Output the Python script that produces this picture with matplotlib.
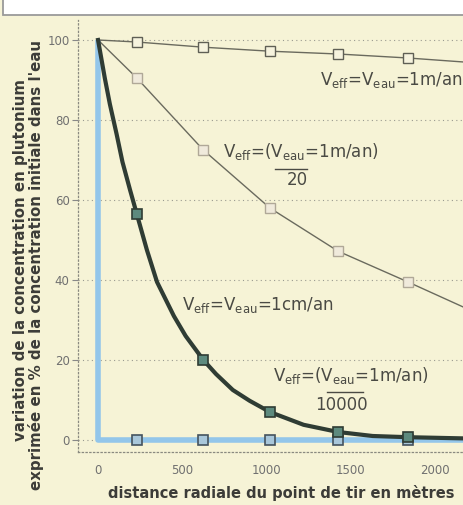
import matplotlib.pyplot as plt
from matplotlib.patches import Rectangle

plt.rcParams['font.family'] = ['DejaVu Sans']
plt.rcParams['mathtext.default'] = 'regular'

# distances of the square markers (m)
dist_markers = [230, 625, 1020, 1425, 1840]
x_end = 2170

# Veff = Veau = 1 m/an
c_1m = [99.5, 98.2, 97.2, 96.5, 95.5]
c_1m_end = 94.5
# Veff = Veau / 20
c_20 = [90.5, 72.5, 58, 47.2, 39.5]
c_20_end = 33.2
# Veff = Veau = 1 cm/an (curve)
cm_x = [0, 40, 70, 110, 145, 190, 230, 290, 350, 450, 520, 625, 700, 800, 900, 1020,
        1220, 1425, 1630, 1840, 2170]
cm_y = [100, 90.5, 84, 76.5, 69.5, 62.5, 56.5, 47.5, 39.5, 31, 26, 20, 16.5, 12.5, 9.8, 7,
        3.8, 2, 1.0, 0.7, 0.4]
c_cm = [56.5, 20, 7, 2, 0.7]
# Veff = Veau / 10000
c_10000 = [0, 0, 0, 0, 0]

xticks = [0, 500, 1000, 1500, 2000]
yticks = [0, 20, 40, 60, 80, 100]

bg = '#f6f3d6'
fig = plt.figure(figsize=(4.64, 5.05), dpi=100, facecolor=bg)
ax = fig.add_axes([78 / 464, 1 - 452 / 505, 1 - 78 / 464, (452 - 20) / 505])
ax.set_facecolor('none')

# white caption box on top
fig.patches.append(Rectangle((3 / 464, 1 - 15 / 505), 1.0, 0.1, transform=fig.transFigure,
                             facecolor='white', edgecolor='#9a9a9a', lw=1.3))

# Veff = Veau/10000 (blue)
ax.plot([0, 0, x_end], [100, 0, 0], color='#93c6ea', lw=4, solid_capstyle='butt', zorder=2)
ax.plot(dist_markers, c_10000, 's', ms=7.5, mfc='#a9c7da', mec='#45535e', mew=1.2, zorder=5)

# Veff = Veau = 1 m/an
ax.plot([0] + dist_markers + [x_end], [100] + c_1m + [c_1m_end], color='#6a6a5e', lw=1.0,
        marker='s', ms=7.5, mfc='#f6f3de', mec='#5f5f55', mew=1.0, markevery=list(range(1, 6)), zorder=3)
# Veff = Veau/20
ax.plot([0] + dist_markers + [x_end], [100] + c_20 + [c_20_end], color='#6a6a5e', lw=1.0,
        marker='s', ms=7.5, mfc='#f0eadc', mec='#b0a898', mew=1.0, markevery=list(range(1, 6)), zorder=3)
# Veff = Veau = 1 cm/an (dark thick)
ax.plot(cm_x, cm_y, color='#2f3c34', lw=3, solid_joinstyle='round', zorder=4)
ax.plot(dist_markers, c_cm, 's', ms=7.5, mfc='#5d8a7e', mec='#2f3c34', mew=1.2, zorder=6)

ax.set_xlim(-119, 2172)
ax.set_ylim(-3, 105)
ax.set_xticks(xticks)
ax.set_yticks(yticks)
ax.tick_params(axis='x', length=0, pad=9, labelsize=8.5, labelcolor='#707070')
ax.tick_params(axis='y', length=4, width=0.8, color='#888888', pad=2, labelsize=8.5, labelcolor='#707070')
ax.grid(axis='y', linestyle=(0, (1, 3)), color='#9a9a90', lw=0.8)
ax.set_axisbelow(True)
for s in ['top', 'right']:
    ax.spines[s].set_visible(False)
for s in ['left', 'bottom']:
    ax.spines[s].set_linestyle((0, (1, 2)))
    ax.spines[s].set_color('#8a8a80')
    ax.spines[s].set_linewidth(0.9)

# curve labels
tc = '#4a4a44'
fs = 12
ax.text(1317, 90, r'$V_{eff}$=$V_{eau}$=1m/an', fontsize=fs, color=tc, va='center', ha='left')
ax.text(742, 72, r'$V_{eff}$=($V_{eau}$=1m/an)', fontsize=fs, color=tc, va='center', ha='left')
ax.plot([1050, 1240], [67.8, 67.8], color=tc, lw=1.0)
ax.text(1181, 65, '20', fontsize=fs, color=tc, va='center', ha='center')
ax.text(498, 33.7, r'$V_{eff}$=$V_{eau}$=1cm/an', fontsize=fs, color=tc, va='center', ha='left')
ax.text(1039, 16.2, r'$V_{eff}$=($V_{eau}$=1m/an)', fontsize=fs, color=tc, va='center', ha='left')
ax.plot([1359, 1573], [12.1, 12.1], color=tc, lw=1.0)
ax.text(1442, 8.7, '10000', fontsize=fs, color=tc, va='center', ha='center')

# axis titles
lc = '#3c3c38'
fig.text(21 / 464, 1 - 260 / 505, 'variation de la concentration en plutonium', rotation=90,
         fontsize=10.8, fontweight='bold', color=lc, ha='center', va='center')
fig.text(36 / 464, 1 - 265 / 505, "exprimée en % de la concentration initiale dans l'eau", rotation=90,
         fontsize=10.8, fontweight='bold', color=lc, ha='center', va='center')
fig.text(281 / 464, 1 - 493 / 505, 'distance radiale du point de tir en mètres',
         fontsize=10.5, fontweight='bold', color=lc, ha='center', va='center')

fig.savefig('out.png', dpi=100, facecolor=bg)
